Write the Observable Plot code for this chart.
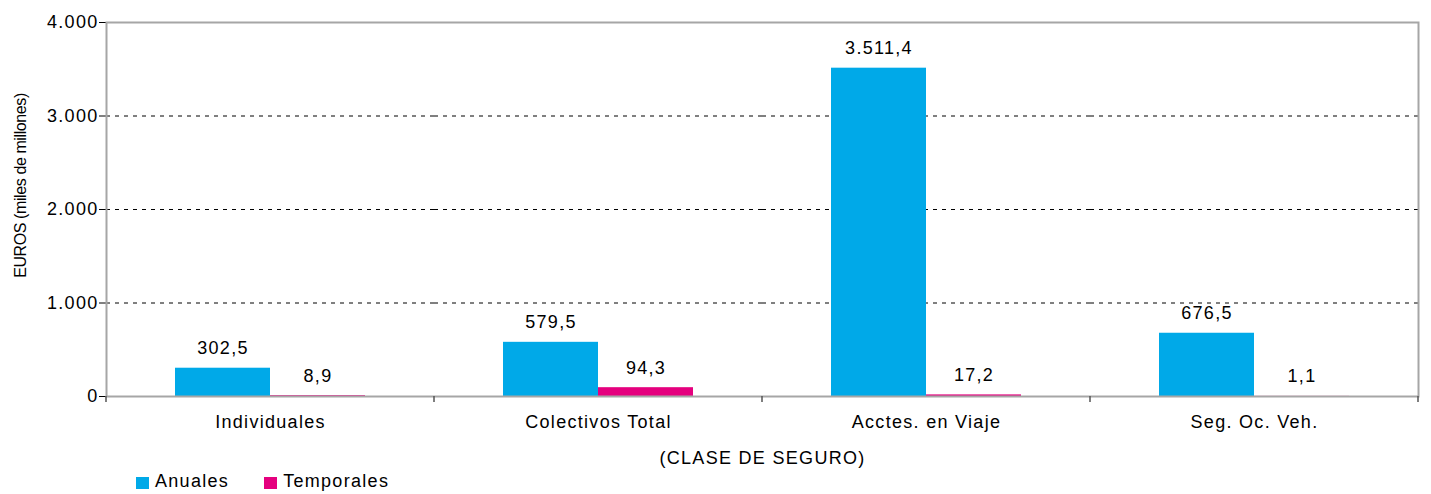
<!DOCTYPE html>
<html><head><meta charset="utf-8">
<script src="https://cdn.jsdelivr.net/npm/d3@7"></script>
<script src="https://cdn.jsdelivr.net/npm/@observablehq/plot@0.6"></script>
<style>
body{margin:0;background:#fff;font-family:"Liberation Sans",Arial,sans-serif;}
#chart{position:absolute;left:0;top:0;}
#chart svg text{letter-spacing:1.3px;}
#chart svg text.ylabel{letter-spacing:-0.4px;}
#legend{position:absolute;left:136px;top:470px;height:22px;display:flex;align-items:center;font-size:18px;letter-spacing:1.3px;color:#000;}
#legend .item{display:flex;align-items:center;margin-right:35px;}
#legend .sw{width:13px;height:12px;margin-right:6px;margin-top:3px;display:inline-block;}
</style></head><body><div id="chart"></div><div id="legend"></div>
<script>
const categories = ["Individuales", "Colectivos Total", "Acctes. en Viaje", "Seg. Oc. Veh."];
const series = ["Anuales", "Temporales"];
const anuales = [302.5, 579.5, 3511.4, 676.5];
const temporales = [8.9, 94.3, 17.2, 1.1];
const yTicks = [0, 1000, 2000, 3000, 4000];
const gridTicks = [1000, 2000, 3000];
const colors = ["#00a9e8", "#e5007e"];
const yTitle = "EUROS (miles de millones)";
const xTitle = "(CLASE DE SEGURO)";

const locale = d3.formatLocale({decimal: ",", thousands: ".", grouping: [3], currency: ["", "€"]});
const fmtTick = locale.format(",.0f");
const fmtVal = locale.format(",.1f");

const data = categories.flatMap((c, i) => [
  {cat: c, serie: series[0], value: anuales[i]},
  {cat: c, serie: series[1], value: temporales[i]}
]);

const chart = Plot.plot({
  width: 1431, height: 470,
  marginTop: 22, marginBottom: 74, marginLeft: 105, marginRight: 13,
  style: {fontFamily: "'Liberation Sans', Arial, sans-serif", fontSize: "18px", color: "#000", background: "#fff"},
  fx: {domain: categories, padding: 0, label: xTitle, labelAnchor: "center", labelOffset: 67, tickSize: 0, tickPadding: 19},
  x: {domain: series, padding: 0, paddingOuter: 0.71, axis: null},
  y: {domain: [0, 4000], ticks: yTicks, tickFormat: fmtTick, tickSize: 7, tickPadding: 1, label: null},
  color: {domain: series, range: colors},
  marks: [
    Plot.gridY(gridTicks, {stroke: "#000", strokeOpacity: 1, strokeDasharray: "4,5", strokeWidth: 1}),
    Plot.barY(data, {fx: "cat", x: "serie", y: "value", fill: "serie"}),
    Plot.text(data, {fx: "cat", x: "serie", y: "value", text: d => fmtVal(d.value), lineAnchor: "bottom", dy: -14, fill: "#000", fontSize: 18}),
    Plot.text([yTitle], {facet: "super", frameAnchor: "left", rotate: -90, dx: -86, dy: -24, fontSize: 16, fill: "#000", textAnchor: "middle", lineAnchor: "middle"}),
    Plot.frame({facet: "super", stroke: "#a6a6a6", strokeWidth: 2}),
    Plot.frame({facet: "super", stroke: "none", render: (index, scales, values, dims) => {
      const g = d3.create("svg:g");
      const fx = scales.fx;
      if (!fx) return g.node();
      const bw = fx.bandwidth ? fx.bandwidth() : 0;
      const xs = categories.map(c => fx(c)).concat([fx(categories[categories.length - 1]) + bw]);
      const y0 = dims.height - dims.marginBottom;
      g.selectAll("line").data(xs).join("line")
        .attr("x1", d => d).attr("x2", d => d)
        .attr("y1", y0).attr("y2", y0 + 6)
        .attr("stroke", "#555").attr("stroke-width", 1.5);
      return g.node();
    }})
  ]
});
d3.select(chart).selectAll("text").filter(function() { return this.textContent === yTitle; }).classed("ylabel", true);
document.getElementById("chart").appendChild(chart);

const legend = document.getElementById("legend");
series.forEach((s, i) => {
  const item = document.createElement("div");
  item.className = "item";
  const sw = document.createElement("span");
  sw.className = "sw";
  sw.style.background = colors[i];
  const t = document.createElement("span");
  t.textContent = s;
  item.appendChild(sw); item.appendChild(t);
  legend.appendChild(item);
});
</script>
</body></html>
